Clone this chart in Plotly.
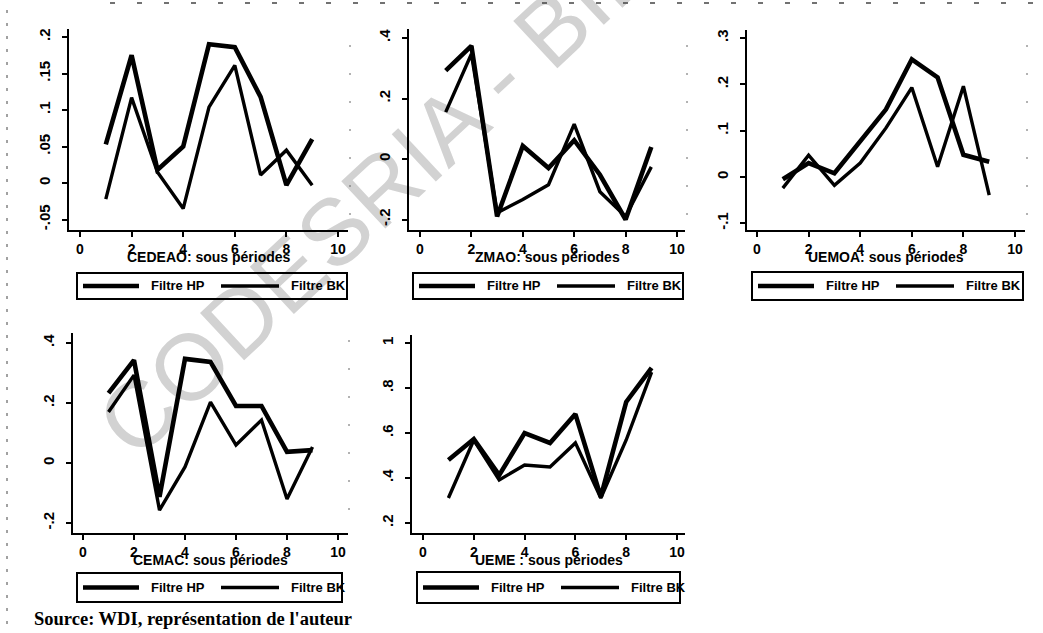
import math
import plotly.graph_objects as go

W, H = 1043, 633

# Sous-périodes (axe des abscisses)
periods = [1, 2, 3, 4, 5, 6, 7, 8, 9]

# Cycles estimés par zone : filtre Hodrick-Prescott et filtre Baxter-King
cedeao_hp = [0.053, 0.175, 0.018, 0.050, 0.190, 0.186, 0.118, -0.003, 0.060]
cedeao_bk = [-0.022, 0.117, 0.015, -0.035, 0.104, 0.161, 0.011, 0.045, -0.003]

zmao_hp = [0.292, 0.374, -0.190, 0.043, -0.030, 0.062, -0.052, -0.200, 0.040]
zmao_bk = [0.155, 0.347, -0.178, -0.134, -0.085, 0.115, -0.108, -0.190, -0.026]

uemoa_hp = [-0.005, 0.030, 0.008, 0.077, 0.146, 0.254, 0.215, 0.048, 0.033]
uemoa_bk = [-0.024, 0.047, -0.018, 0.030, 0.106, 0.193, 0.022, 0.196, -0.039]

cemac_hp = [0.233, 0.343, -0.113, 0.347, 0.337, 0.190, 0.190, 0.037, 0.043]
cemac_bk = [0.170, 0.293, -0.157, -0.013, 0.203, 0.060, 0.143, -0.120, 0.053]

ueme_hp = [0.480, 0.573, 0.413, 0.600, 0.556, 0.684, 0.316, 0.738, 0.889]
ueme_bk = [0.311, 0.569, 0.391, 0.458, 0.449, 0.556, 0.311, 0.569, 0.871]

# Graduations
x_tickvals = [0, 2, 4, 6, 8, 10]
x_ticktext = ["0", "2", "4", "6", "8", "10"]

cedeao_yvals = [-0.05, 0, 0.05, 0.1, 0.15, 0.2]
cedeao_ytext = ["-.05", "0", ".05", ".1", ".15", ".2"]
zmao_yvals = [-0.2, 0, 0.2, 0.4]
zmao_ytext = ["-.2", "0", ".2", ".4"]
uemoa_yvals = [-0.1, 0, 0.1, 0.2, 0.3]
uemoa_ytext = ["-.1", "0", ".1", ".2", ".3"]
cemac_yvals = [-0.2, 0, 0.2, 0.4]
cemac_ytext = ["-.2", "0", ".2", ".4"]
ueme_yvals = [0.2, 0.4, 0.6, 0.8, 1]
ueme_ytext = [".2", ".4", ".6", ".8", "1"]

titles = ["CEDEAO: sous périodes", "ZMAO: sous périodes", "UEMOA: sous périodes",
          "CEMAC: sous périodes", "UEME : sous périodes"]
legend_labels = ["Filtre HP", "Filtre BK"]
source_text = "Source: WDI, représentation de l'auteur"
watermark_text = "CODESRIA - BIBLIOTHEQUE"

series = [
    (cedeao_hp, cedeao_bk, cedeao_yvals, cedeao_ytext),
    (zmao_hp, zmao_bk, zmao_yvals, zmao_ytext),
    (uemoa_hp, uemoa_bk, uemoa_yvals, uemoa_ytext),
    (cemac_hp, cemac_bk, cemac_yvals, cemac_ytext),
    (ueme_hp, ueme_bk, ueme_yvals, ueme_ytext),
]

# Page layout of each panel (pixels): plot box, x calibration, y calibration, legend box
layout_px = [
    dict(box=(69, 348, 29, 230), xcal=(80, 338), ycal=((0.0, 183), (0.2, 37)), leg=(77, 347, 273, 299)),
    dict(box=(409, 685, 29, 230), xcal=(420, 677), ycal=((0.0, 159), (0.4, 38)), leg=(413, 683, 273, 299)),
    dict(box=(747, 1025, 30, 230), xcal=(757, 1015), ycal=((0.0, 177), (0.3, 38)), leg=(752, 1023, 272, 300)),
    dict(box=(73, 348, 333, 533), xcal=(83, 338), ycal=((0.0, 463), (0.4, 343)), leg=(77, 342, 573, 602)),
    dict(box=(412, 685, 335, 533), xcal=(423, 677), ycal=((0.2, 523), (1.0, 343)), leg=(417, 680, 572, 603)),
]

FONT = "Liberation Sans, Arial, sans-serif"
HP_W, BK_W = 4.6, 3.4

fig = go.Figure()
layout = dict(
    width=W, height=H, margin=dict(l=0, r=0, t=0, b=0),
    paper_bgcolor="white", plot_bgcolor="rgba(0,0,0,0)",
    showlegend=False,
)
shapes = []
annotations = []


def px(x):
    return x / W


def py(y):
    return 1 - y / H


for i, ((hp, bk, yvals, ytext), cfg) in enumerate(zip(series, layout_px)):
    n = "" if i == 0 else str(i + 1)
    xa, ya = "x" + n, "y" + n
    left, right, top, bottom = cfg["box"]
    x0p, x10p = cfg["xcal"]
    bx = (x10p - x0p) / 10.0
    xr = [(left - x0p) / bx, (right - x0p) / bx]
    (v1, p1), (v2, p2) = cfg["ycal"]
    by = (p2 - p1) / (v2 - v1)
    yr = [v1 + (bottom - p1) / by, v1 + (top - p1) / by]

    fig.add_trace(go.Scatter(x=periods, y=hp, mode="lines", name=legend_labels[0],
                             line=dict(color="black", width=HP_W), xaxis=xa, yaxis=ya))
    fig.add_trace(go.Scatter(x=periods, y=bk, mode="lines", name=legend_labels[1],
                             line=dict(color="black", width=BK_W), xaxis=xa, yaxis=ya))

    layout["xaxis" + n] = dict(
        domain=[px(left), px(right)], range=xr, anchor=ya,
        showline=True, linecolor="black", linewidth=2, mirror=False,
        ticks="outside", ticklen=5, tickwidth=1.5, tickcolor="black",
        tickvals=x_tickvals, ticktext=x_ticktext,
        tickfont=dict(family=FONT, size=14, color="black", weight="bold"),
        showgrid=False, zeroline=False,
    )
    layout["yaxis" + n] = dict(
        domain=[py(bottom), py(top)], range=yr, anchor=xa,
        showline=True, linecolor="black", linewidth=2, mirror=False,
        ticks="outside", ticklen=5, tickwidth=1.5, tickcolor="black",
        tickvals=yvals, ticktext=ytext, tickangle=-90, ticklabelstandoff=6,
        tickfont=dict(family=FONT, size=15, color="black", weight="bold"),
        showgrid=False, zeroline=False,
    )

    # axis title
    annotations.append(dict(
        x=px((left + right) / 2), y=py(bottom + 27), xref="paper", yref="paper",
        text=titles[i], showarrow=False, xanchor="center", yanchor="middle",
        font=dict(family=FONT, size=14, color="black", weight="bold"),
    ))

    # legend box
    L, R, T, B = cfg["leg"]
    cy = (T + B) / 2
    shapes.append(dict(type="rect", xref="paper", yref="paper",
                       x0=px(L), x1=px(R), y0=py(B), y1=py(T),
                       line=dict(color="black", width=2), fillcolor="rgba(0,0,0,0)"))
    shapes.append(dict(type="line", xref="paper", yref="paper",
                       x0=px(L + 6), x1=px(L + 62), y0=py(cy), y1=py(cy),
                       line=dict(color="black", width=HP_W)))
    shapes.append(dict(type="line", xref="paper", yref="paper",
                       x0=px(L + 144), x1=px(L + 202), y0=py(cy), y1=py(cy),
                       line=dict(color="black", width=BK_W)))
    for lab, off in zip(legend_labels, (72, 212)):
        annotations.append(dict(
            x=px(L + off), y=py(cy), xref="paper", yref="paper", text=lab,
            showarrow=False, xanchor="left", yanchor="middle",
            font=dict(family=FONT, size=13, color="black", weight="bold"),
        ))

# source line
annotations.append(dict(
    x=px(32), y=py(619), xref="paper", yref="paper", text=source_text,
    showarrow=False, xanchor="left", yanchor="middle",
    font=dict(family="Liberation Serif, Times New Roman, serif", size=18.5,
              color="black", weight="bold"),
))

# diagonal watermark behind the curves
wm_size = 94
wm_angle = 43
em_to_center = 6.39
cx0, cy0 = 130, 410
d = em_to_center * wm_size
wx = cx0 + d * math.cos(math.radians(wm_angle))
wy = cy0 - d * math.sin(math.radians(wm_angle))
shapes.append(dict(
    type="rect", xref="paper", yref="paper", layer="below",
    x0=px(wx - 1), x1=px(wx + 1), y0=py(wy + 1), y1=py(wy - 1),
    line=dict(width=0), fillcolor="rgba(0,0,0,0)",
    label=dict(text=watermark_text, textangle=-wm_angle, textposition="middle center",
               font=dict(family=FONT, size=wm_size, color="#d2d2d2")),
))

# faint scanner streaks along the page edges
dash_style = dict(color="#444444", width=1, dash="3px,10px")
shapes.append(dict(type="line", xref="paper", yref="paper", x0=px(7), x1=px(7),
                   y0=py(10), y1=py(633), line=dash_style))
shapes.append(dict(type="line", xref="paper", yref="paper", x0=px(110), x1=px(1043),
                   y0=py(3), y1=py(3), line=dict(color="#444444", width=1.5, dash="5px,22px")))
for xe, t0, t1 in [(1027, 45, 228), (350, 45, 228), (687, 45, 228), (349, 340, 530)]:
    shapes.append(dict(type="line", xref="paper", yref="paper", x0=px(xe), x1=px(xe),
                       y0=py(t0), y1=py(t1), line=dict(color="#666666", width=1, dash="2px,26px")))

layout["shapes"] = shapes
layout["annotations"] = annotations
fig.update_layout(**layout)

fig.write_html("out.html")
